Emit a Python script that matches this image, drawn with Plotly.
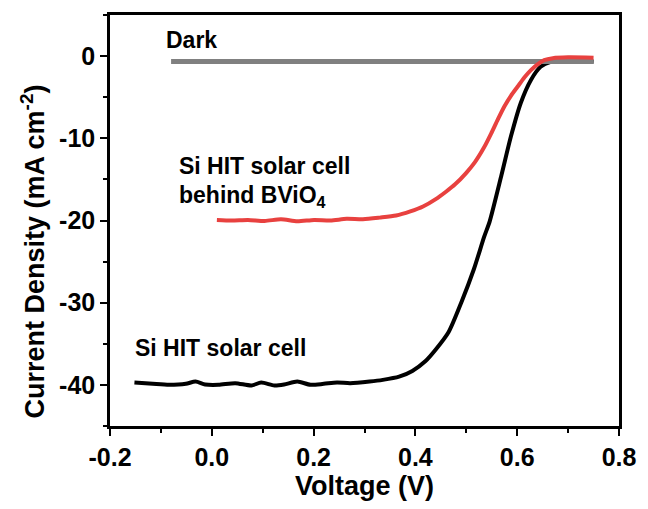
import plotly.graph_objects as go

# Data
v_black = [-0.152, -0.116, -0.084, -0.051, -0.032, -0.013, 0.013, 0.046, 0.078, 0.097,
           0.123, 0.142, 0.168, 0.194, 0.220, 0.246, 0.272, 0.310, 0.336, 0.368,
           0.394, 0.42, 0.44, 0.465, 0.49, 0.515, 0.535, 0.546, 0.569, 0.588,
           0.607, 0.627, 0.646, 0.666, 0.69, 0.72, 0.75]
j_black = [-39.71, -39.87, -39.99, -39.87, -39.59, -39.95, -39.99, -39.79, -40.07, -39.71,
           -40.07, -39.95, -39.59, -39.99, -39.87, -39.71, -39.79, -39.59, -39.39, -39.0,
           -38.3, -37.1, -35.7, -33.6, -30.0, -25.9, -22.0, -20.1, -14.5, -9.7,
           -5.7, -2.9, -1.3, -0.7, -0.55, -0.6, -0.7]

v_red = [0.010, 0.039, 0.071, 0.104, 0.136, 0.168, 0.201, 0.233, 0.265, 0.297,
         0.330, 0.362, 0.39, 0.415, 0.44, 0.46, 0.478, 0.50, 0.517, 0.535,
         0.549, 0.562, 0.575, 0.588, 0.601, 0.614, 0.627, 0.64, 0.653, 0.67,
         0.70, 0.75]
j_red = [-19.93, -20.0, -19.93, -20.05, -19.85, -20.1, -19.93, -20.0, -19.8, -19.85,
         -19.65, -19.4, -18.9, -18.3, -17.4, -16.5, -15.6, -14.2, -12.9, -11.1,
         -9.4, -7.7, -6.1, -4.8, -3.7, -2.6, -1.7, -1.0, -0.5, -0.25,
         -0.15, -0.2]

v_dark = [-0.08, 0.75]
j_dark = [-0.65, -0.65]

x_ticks = [-0.2, 0.0, 0.2, 0.4, 0.6, 0.8]
x_ticklabels = ["-0.2", "0.0", "0.2", "0.4", "0.6", "0.8"]
y_ticks = [0, -10, -20, -30, -40]
y_ticklabels = ["0", "-10", "-20", "-30", "-40"]

FONT = "Liberation Sans, Arial, Helvetica, sans-serif"

fig = go.Figure()
fig.add_trace(go.Scatter(x=v_black, y=j_black, mode="lines",
                         line=dict(color="#000000", width=4, shape="spline", smoothing=0.7),
                         showlegend=False))
fig.add_trace(go.Scatter(x=v_dark, y=j_dark, mode="lines",
                         line=dict(color="#808080", width=5),
                         showlegend=False))
fig.add_trace(go.Scatter(x=v_red, y=j_red, mode="lines",
                         line=dict(color="#e8413f", width=4, shape="spline", smoothing=0.7),
                         showlegend=False))

axis_common = dict(
    showline=True, linecolor="black", linewidth=2.5, mirror=True,
    ticks="outside", ticklen=7, tickwidth=2, tickcolor="black",
    showgrid=False, zeroline=False,
    tickfont=dict(family=FONT, size=25, color="black", weight="bold"),
)

fig.update_xaxes(
    range=[-0.2, 0.8], tickvals=x_ticks, ticktext=x_ticklabels,
    minor=dict(ticks="outside", dtick=0.1, ticklen=4, tickwidth=2, tickcolor="black"),
    title=dict(text="Voltage (V)", font=dict(family=FONT, size=27, color="black", weight="bold"),
               standoff=6),
    **axis_common,
)
fig.update_yaxes(
    range=[-45, 5], tickvals=y_ticks, ticktext=y_ticklabels,
    minor=dict(ticks="outside", dtick=5, ticklen=4, tickwidth=2, tickcolor="black"),
    **axis_common,
)

# y-axis title as a rotated annotation so its vertical position matches the reference
fig.add_annotation(x=-0.151, y=0.425, xref="paper", yref="paper",
                   text="Current Density (mA cm<sup>-2</sup>)", textangle=-90,
                   showarrow=False, xanchor="center", yanchor="middle",
                   font=dict(family=FONT, size=27, color="black", weight="bold"))

ann_font = dict(family=FONT, size=23, color="black", weight="bold")
fig.add_annotation(x=-0.093, y=1.9, xref="x", yref="y", text="Dark", showarrow=False,
                   xanchor="left", yanchor="middle", font=ann_font)
fig.add_annotation(x=-0.068, y=-13.4, xref="x", yref="y", text="Si HIT solar cell",
                   showarrow=False, xanchor="left", yanchor="middle", font=ann_font)
fig.add_annotation(x=-0.068, y=-17.1, xref="x", yref="y", text="behind BViO<sub>4</sub>",
                   showarrow=False, xanchor="left", yanchor="middle", font=ann_font)
fig.add_annotation(x=-0.155, y=-35.5, xref="x", yref="y", text="Si HIT solar cell",
                   showarrow=False, xanchor="left", yanchor="middle", font=ann_font)

fig.update_layout(
    width=648, height=509,
    margin=dict(l=110, r=22, t=12, b=83),
    plot_bgcolor="white", paper_bgcolor="white",
)

fig.write_html("out.html")
